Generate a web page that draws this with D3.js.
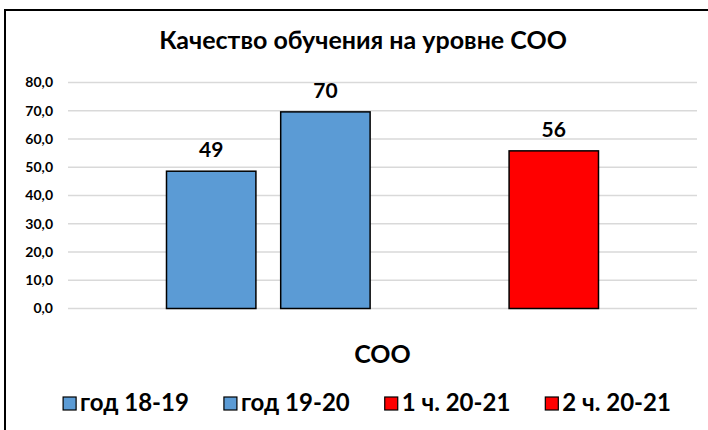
<!DOCTYPE html>
<html>
<head>
<meta charset="utf-8">
<script src="https://cdn.jsdelivr.net/npm/d3@7"></script>
<style>
  body { margin: 0; background: #fff; }
  svg { display: block; font-family: Lato, "Noto Sans", sans-serif; }
</style>
</head>
<body>
<div id="chart"></div>
<script>
const title = "Качество обучения на уровне СОО"
const categories = ["СОО"]
const seriesNames = ["год 18-19", "год 19-20", "1 ч. 20-21", "2 ч. 20-21"]
const seriesValues = [48.6, 69.6, null, 55.8]
const seriesColors = ["#5b9bd5", "#5b9bd5", "#ff0000", "#ff0000"]
const yTicks = [0, 10, 20, 30, 40, 50, 60, 70, 80]

const W = 708, H = 430
const plot = { left: 68, right: 697, top: 82.5, bottom: 308.5 }

const svg = d3.select("#chart").append("svg")
    .attr("width", W)
    .attr("height", H)

// chart frame (runs off the right and bottom edge like the screenshot)
svg.append("rect")
    .attr("x", 5).attr("y", 10)
    .attr("width", W + 20).attr("height", H + 20)
    .attr("fill", "#fff")
    .attr("stroke", "#000")
    .attr("stroke-width", 2)

svg.append("text")
    .attr("x", 363).attr("y", 49)
    .attr("text-anchor", "middle")
    .attr("font-size", 25)
    .attr("font-weight", "bold")
    .text(title)

const y = d3.scaleLinear().domain([0, 80]).range([plot.bottom, plot.top])
const x0 = d3.scaleBand().domain(categories).range([plot.left, plot.right])
    .paddingOuter(0.228).paddingInner(0)
const x1 = d3.scaleBand().domain(seriesNames).range([0, x0.bandwidth()])
    .paddingInner(0.217).paddingOuter(0)

// gridlines
svg.append("g")
    .selectAll("line")
    .data(yTicks)
    .enter()
    .append("line")
    .attr("x1", plot.left).attr("x2", plot.right)
    .attr("y1", d => y(d)).attr("y2", d => y(d))
    .attr("stroke", "#d9d9d9")
    .attr("stroke-width", 1.5)

// y axis labels
const yAxis = svg.append("g")
    .attr("transform", `translate(${plot.left},0)`)
    .call(d3.axisLeft(y).tickValues(yTicks).tickSize(0).tickPadding(15)
        .tickFormat(d => d3.format(".1f")(d).replace(".", ",")))
yAxis.select(".domain").remove()
yAxis.selectAll("text")
    .attr("font-family", "Lato, 'Noto Sans', sans-serif")
    .attr("font-size", 14)
    .attr("font-weight", "bold")
    .attr("fill", "#000")

const rows = seriesNames.map((name, i) => ({ name, value: seriesValues[i], color: seriesColors[i] }))
const group = svg.append("g")
    .attr("transform", `translate(${x0(categories[0])},0)`)

const bars = rows.filter(d => d.value !== null)
group.selectAll("rect")
    .data(bars)
    .enter()
    .append("rect")
    .attr("x", d => x1(d.name))
    .attr("y", d => y(d.value))
    .attr("width", x1.bandwidth())
    .attr("height", d => y(0) - y(d.value))
    .attr("fill", d => d.color)
    .attr("stroke", "#000")
    .attr("stroke-width", 1.5)

group.selectAll("text.val")
    .data(bars)
    .enter()
    .append("text")
    .attr("class", "val")
    .attr("x", d => x1(d.name) + x1.bandwidth() / 2)
    .attr("y", d => y(d.value) - 14)
    .attr("text-anchor", "middle")
    .attr("font-size", 21)
    .attr("font-weight", "bold")
    .text(d => d3.format(".0f")(d.value))

// category label
svg.append("text")
    .attr("x", x0(categories[0]) + x0.bandwidth() / 2)
    .attr("y", 363)
    .attr("text-anchor", "middle")
    .attr("font-size", 25)
    .attr("font-weight", "bold")
    .text(categories[0])

// legend
const legend = svg.append("g")
const items = legend.selectAll("g")
    .data(rows)
    .enter()
    .append("g")
items.append("rect")
    .attr("width", 13).attr("height", 13)
    .attr("y", -14)
    .attr("fill", d => d.color)
    .attr("stroke", "#000")
    .attr("stroke-width", 1.2)
items.append("text")
    .attr("x", 17)
    .attr("font-size", 24)
    .attr("font-weight", "bold")
    .text(d => d.name)

let pos = 0
const gap = 35
items.each(function () {
    const t = d3.select(this).select("text").node().getComputedTextLength()
    d3.select(this).attr("transform", `translate(${pos},0)`)
    pos += 17 + t + gap
})
const total = pos - gap
legend.attr("transform", `translate(${367 - total / 2},411)`)
</script>
</body>
</html>
